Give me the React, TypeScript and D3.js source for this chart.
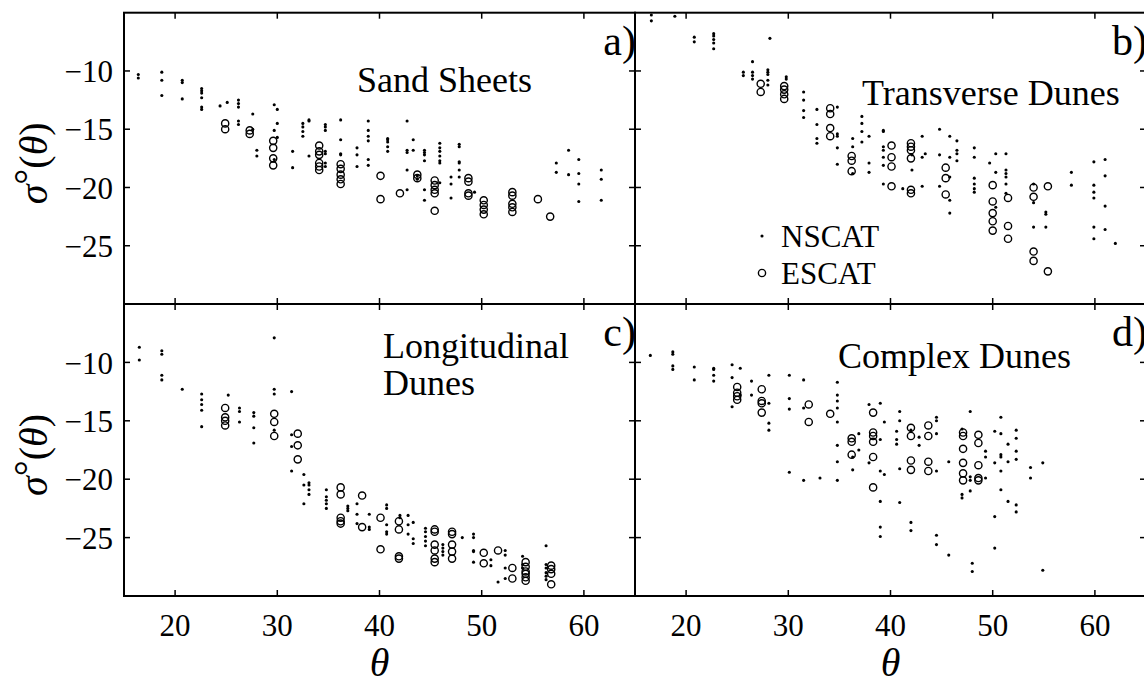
import React from "react";
import * as d3 from "d3";

// Backscatter σ°(θ) samples grouped by incidence angle: [θ, [σ° values, dB]]
type Column = [number, number[]];

const sandNscat: Column[] = [
  [16.4, [-10.3, -10.6]],
  [18.7, [-10.1, -10.8, -12.1]],
  [20.7, [-10.8, -11.0, -12.4]],
  [22.6, [-11.5, -11.7, -11.9, -12.3, -13.1, -13.3]],
  [24.4, [-13.0]],
  [25.1, [-12.7]],
  [26.2, [-12.5, -12.8, -13.1, -14.3, -14.6]],
  [27.6, [-13.7, -15.0]],
  [28.0, [-16.8, -17.3]],
  [29.7, [-12.9, -15.1, -17.6]],
  [30.0, [-13.3, -14.5, -15.7]],
  [31.5, [-16.9, -18.3]],
  [32.5, [-14.5, -14.8, -15.2, -15.6]],
  [33.1, [-14.2, -14.3, -17.3]],
  [34.7, [-14.6, -14.8, -15.1, -16.9, -17.1, -17.9, -18.2]],
  [36.2, [-14.2, -15.9, -17.1, -17.2]],
  [37.8, [-16.6, -17.2, -18.2]],
  [38.9, [-14.3, -15.1, -15.6, -16.0, -17.6, -18.1]],
  [40.8, [-15.8, -15.9, -16.1, -16.5, -16.9]],
  [42.7, [-14.3, -16.8, -17.0, -18.5, -20.2]],
  [43.3, [-15.9, -16.8]],
  [43.7, [-19.0, -19.3]],
  [44.4, [-16.8, -17.0, -17.2, -17.7, -20.2, -21.1]],
  [45.9, [-16.2, -16.6, -16.9, -17.3, -17.7, -17.9, -19.6]],
  [47.0, [-19.1, -19.7, -20.9]],
  [47.8, [-16.3, -16.5, -17.8, -17.9, -18.5, -19.1]],
  [49.3, [-20.4]],
  [57.3, [-17.9, -18.7]],
  [58.5, [-16.8, -18.9]],
  [59.5, [-17.6, -18.8, -19.7, -21.2]],
  [61.7, [-18.5, -19.3, -21.1]],
];

const sandEscat: Column[] = [
  [24.9, [-14.5, -15.0]],
  [27.3, [-15.1, -15.4]],
  [29.6, [-16.0, -16.6, -17.5, -18.1]],
  [34.1, [-16.4, -16.9, -17.2, -17.9, -18.2, -18.5]],
  [36.2, [-18.0, -18.4, -18.9, -19.3, -19.7]],
  [40.1, [-19.0, -21.0]],
  [42.0, [-20.5]],
  [43.7, [-18.9, -19.2]],
  [45.4, [-19.4, -19.8, -20.2, -20.5, -22.0]],
  [48.7, [-19.2, -19.5, -20.5, -20.7]],
  [50.2, [-21.1, -21.5, -21.9, -22.3]],
  [53.0, [-20.4, -20.7, -21.4, -21.7, -22.1]],
  [55.5, [-21.0]],
  [56.7, [-22.5]],
];

const transNscat: Column[] = [
  [16.6, [-5.2, -5.7]],
  [18.9, [-5.3]],
  [20.8, [-7.1, -7.5]],
  [22.7, [-6.8, -7.0, -7.3, -7.6, -8.1]],
  [25.6, [-10.1, -10.4]],
  [26.5, [-9.2, -10.1, -10.4, -10.7]],
  [28.0, [-9.9, -10.1, -10.3, -10.8, -11.2]],
  [28.2, [-7.2]],
  [29.8, [-10.5, -10.7]],
  [31.5, [-11.8, -12.5, -13.4, -14.0]],
  [32.8, [-13.3, -14.6, -15.8, -16.2]],
  [34.8, [-13.1, -15.4, -15.6, -16.6, -18.0]],
  [36.3, [-15.8, -16.5, -18.8]],
  [37.2, [-13.9, -14.5, -15.2, -16.1]],
  [37.9, [-15.6, -17.9, -18.7]],
  [39.3, [-15.1, -15.2, -16.5, -16.8, -17.4, -18.1, -19.7]],
  [41.2, [-20.1]],
  [42.1, [-17.2, -18.5]],
  [43.1, [-15.6, -17.4, -19.9]],
  [43.4, [-17.1]],
  [44.8, [-15.0, -17.2, -19.9]],
  [45.8, [-15.6, -17.4, -19.1, -21.1, -22.2]],
  [46.5, [-16.0, -16.8, -17.1, -17.7]],
  [48.2, [-16.6, -17.4, -19.2, -19.7, -20.1, -20.4]],
  [49.7, [-17.9]],
  [50.3, [-17.1, -18.7, -21.7]],
  [51.3, [-17.1, -18.5, -18.8, -19.1, -19.7, -20.5]],
  [54.0, [-19.7, -21.3, -23.4]],
  [55.2, [-22.1, -22.3, -23.4]],
  [57.7, [-18.7, -19.8]],
  [59.9, [-17.8, -19.8, -20.4, -20.9, -23.4, -24.4]],
  [61.0, [-17.6, -19.0, -21.6, -23.6]],
  [62.0, [-24.8]],
];

const transEscat: Column[] = [
  [27.3, [-11.1, -11.8]],
  [29.6, [-11.3, -11.6, -12.0, -12.4]],
  [34.1, [-13.2, -13.7, -14.9, -15.6]],
  [36.2, [-17.3, -17.7, -18.6]],
  [40.1, [-16.4, -17.4, -18.2, -19.9]],
  [42.0, [-16.2, -16.5, -16.8, -17.5, -20.2, -20.5]],
  [45.4, [-18.3, -19.2, -20.6]],
  [50.0, [-19.8, -21.2, -22.2, -22.9, -23.7]],
  [51.5, [-20.9, -23.3, -24.4]],
  [54.0, [-20.0, -20.8, -25.5, -26.3]],
  [55.4, [-19.9, -27.2]],
];

const longNscat: Column[] = [
  [16.5, [-8.7, -9.8]],
  [18.7, [-9.0, -9.3, -11.1, -11.5]],
  [20.7, [-12.3]],
  [22.6, [-12.7, -13.2, -13.6, -14.1, -15.5]],
  [25.2, [-12.8]],
  [26.3, [-13.9, -14.2, -15.1]],
  [27.7, [-14.3, -14.6, -15.6, -16.9]],
  [29.7, [-7.9, -12.3, -12.7, -15.8]],
  [31.4, [-12.5, -16.2, -17.2, -19.3]],
  [32.6, [-19.6, -20.5, -22.1]],
  [33.1, [-20.3, -20.5, -20.9, -21.3]],
  [34.8, [-20.9, -21.5, -21.8, -22.1, -22.5]],
  [36.9, [-22.3, -22.5, -22.7]],
  [37.8, [-22.1, -23.0, -23.8]],
  [39.0, [-23.0, -24.1, -24.3]],
  [40.7, [-22.2, -22.5, -23.9, -24.5, -24.7]],
  [42.0, [-23.1, -23.3]],
  [42.8, [-23.1, -23.9, -24.7]],
  [43.3, [-23.7, -25.1, -25.5]],
  [44.5, [-24.2, -24.5, -24.9, -25.3, -25.7]],
  [46.2, [-25.6, -25.9, -26.2, -26.5]],
  [48.1, [-25.0]],
  [49.2, [-24.7, -25.0, -26.1, -26.2, -27.1]],
  [50.9, [-26.9, -27.4]],
  [51.6, [-28.8]],
  [52.3, [-26.1, -26.5, -27.6, -28.5]],
  [54.0, [-26.6, -27.3, -27.6]],
  [56.3, [-25.7, -27.3, -27.6, -28.0, -28.3, -28.6]],
];

const longEscat: Column[] = [
  [24.9, [-13.9, -14.7, -15.0, -15.4]],
  [29.7, [-14.4, -15.1, -16.3]],
  [32.0, [-16.1, -17.1, -18.3]],
  [36.2, [-20.7, -21.3, -23.3, -23.6, -23.8]],
  [38.3, [-21.4, -24.1]],
  [40.1, [-23.3, -26.0]],
  [41.9, [-23.6, -24.3, -26.6, -26.8]],
  [45.4, [-24.3, -24.5, -25.6, -26.1, -26.8, -27.1]],
  [47.1, [-24.5, -24.7, -25.6, -26.2, -26.8]],
  [50.2, [-26.3, -27.2]],
  [51.6, [-26.1]],
  [53.0, [-27.6, -28.5]],
  [54.3, [-27.1, -27.5, -27.9, -28.1, -28.4, -28.7]],
  [56.8, [-27.4, -27.7, -28.1, -29.0]],
];

const complexNscat: Column[] = [
  [16.5, [-9.4]],
  [18.7, [-9.1, -9.3, -10.3, -10.6]],
  [20.8, [-10.4, -11.5]],
  [22.7, [-10.5, -10.6, -11.1, -11.6]],
  [24.5, [-10.2, -11.3, -13.8]],
  [25.3, [-10.5, -12.8]],
  [26.4, [-11.6, -12.8]],
  [28.1, [-11.1, -13.5, -15.2, -15.8]],
  [30.1, [-11.1, -13.1, -14.0, -19.4]],
  [31.5, [-11.5, -13.9, -20.1]],
  [33.1, [-19.9]],
  [34.8, [-11.7, -12.8, -13.3, -13.9, -15.1, -17.1, -18.5, -20.1]],
  [36.3, [-18.1, -19.2]],
  [36.9, [-16.1, -17.5]],
  [37.9, [-13.6, -18.6]],
  [39.0, [-13.5, -16.6, -19.3, -21.9, -24.1, -24.9]],
  [39.4, [-15.1, -19.6]],
  [40.6, [-15.9, -16.6, -17.0]],
  [40.9, [-14.2, -15.0, -19.1, -22.0]],
  [42.0, [-15.8, -23.7, -24.4]],
  [42.8, [-16.4, -17.1]],
  [44.5, [-14.7, -15.0, -16.1, -19.3, -24.8, -25.6]],
  [45.7, [-18.5, -26.5]],
  [47.0, [-15.7, -21.3, -21.6]],
  [47.8, [-14.2, -19.8, -20.1, -21.0]],
  [48.0, [-27.2, -27.9]],
  [49.3, [-17.6, -18.1, -19.9]],
  [50.2, [-15.9, -18.6, -23.2, -25.9]],
  [50.8, [-14.7, -16.1, -17.9, -18.1, -19.3, -20.9]],
  [51.5, [-17.0, -18.5, -21.9]],
  [52.3, [-15.8, -16.5, -17.6, -18.3, -22.2, -22.8]],
  [53.7, [-19.0, -19.9]],
  [54.9, [-18.6, -27.8]],
];

const complexEscat: Column[] = [
  [25.0, [-12.1, -12.6, -12.9, -13.2]],
  [27.4, [-12.3, -13.3, -13.5, -14.3]],
  [32.0, [-13.6, -15.1]],
  [34.1, [-14.4]],
  [36.2, [-16.5, -16.8, -17.9]],
  [38.3, [-14.3, -16.0, -16.3, -16.8, -18.1, -20.7]],
  [42.0, [-15.6, -16.3, -18.4, -19.2]],
  [43.7, [-15.4, -16.3, -18.5, -19.3]],
  [47.1, [-16.0, -16.3, -17.4, -18.6, -19.5, -20.1]],
  [48.6, [-16.2, -16.9, -18.8, -19.9, -20.1]],
];

const xTicks = [20, 30, 40, 50, 60];
const yTicks = [-25, -20, -15, -10];
const xDomain: [number, number] = [15, 65];
const yDomain: [number, number] = [-30, -5];

const panels = [
  { id: "a", col: 0, row: 0, label: "a)", title: ["Sand Sheets"], nscat: sandNscat, escat: sandEscat },
  { id: "b", col: 1, row: 0, label: "b)", title: ["Transverse Dunes"], nscat: transNscat, escat: transEscat },
  { id: "c", col: 0, row: 1, label: "c)", title: ["Longitudinal", "Dunes"], nscat: longNscat, escat: longEscat },
  { id: "d", col: 1, row: 1, label: "d)", title: ["Complex Dunes"], nscat: complexNscat, escat: complexEscat },
];

// layout
const colEdges = [124, 635, 1146];
const rowEdges = [12.7, 304, 596];
const titlePos: Record<string, [number, number]> = {
  a: [357, 92],
  b: [862, 105],
  c: [383, 358],
  d: [838, 368],
};

const FONT = "'Liberation Serif', 'Times New Roman', serif";
const TICK = 6;
const DOT_R = 1.55;
const RING_R = 3.6;
const RING_W = 1.4;

const flatten = (cols: Column[]) =>
  cols.flatMap(([t, vals]) => vals.map((v) => [t, v] as [number, number]));

export default function App() {
  return (
    <svg
      width={1144}
      height={677}
      style={{ position: "absolute", left: 0, top: 0, background: "#fff" }}
      fontFamily={FONT}
    >
      <rect width={1144} height={677} fill="#fff" />
      {panels.map((p) => {
        const x0 = colEdges[p.col];
        const x1 = colEdges[p.col + 1];
        const y0 = rowEdges[p.row];
        const y1 = rowEdges[p.row + 1];
        const x = d3.scaleLinear().domain(xDomain).range([x0, x1]);
        const y = d3.scaleLinear().domain(yDomain).range([y1, y0]);
        const dots = flatten(p.nscat);
        const rings = flatten(p.escat);
        const [tx, ty] = titlePos[p.id];
        return (
          <g key={p.id}>
            {dots.map(([t, s], i) => (
              <circle key={"n" + i} cx={x(t)} cy={y(s)} r={DOT_R} fill="#000" />
            ))}
            {rings.map(([t, s], i) => (
              <circle
                key={"e" + i}
                cx={x(t)}
                cy={y(s)}
                r={RING_R}
                fill="none"
                stroke="#000"
                strokeWidth={RING_W}
              />
            ))}
            {/* inward ticks on all four sides */}
            {xTicks.map((t) => (
              <g key={"xt" + t} stroke="#000" strokeWidth={1.5}>
                <line x1={x(t)} x2={x(t)} y1={y1} y2={y1 - TICK} />
                <line x1={x(t)} x2={x(t)} y1={y0} y2={y0 + TICK} />
              </g>
            ))}
            {yTicks.map((t) => (
              <g key={"yt" + t} stroke="#000" strokeWidth={1.5}>
                <line x1={x0} x2={x0 + TICK} y1={y(t)} y2={y(t)} />
                <line x1={x1} x2={x1 - TICK} y1={y(t)} y2={y(t)} />
              </g>
            ))}
            <rect
              x={x0}
              y={y0}
              width={x1 - x0}
              height={y1 - y0}
              fill="none"
              stroke="#000"
              strokeWidth={2}
            />
            {p.col === 0 &&
              yTicks.map((t) => (
                <text
                  key={"yl" + t}
                  x={x0 - 11}
                  y={y(t)}
                  dy="0.36em"
                  textAnchor="end"
                  fontSize={31}
                >
                  {"\u2212" + Math.abs(t)}
                </text>
              ))}
            {p.row === 1 &&
              xTicks.map((t) => (
                <text key={"xl" + t} x={x(t)} y={636} textAnchor="middle" fontSize={31}>
                  {t}
                </text>
              ))}
            {p.title.map((line, i) => (
              <text key={"t" + i} x={tx} y={ty + i * 37} fontSize={36}>
                {line}
              </text>
            ))}
            <text x={x1 + 1} y={y0 + 42} textAnchor="end" fontSize={42}>
              {p.label}
            </text>
            {p.col === 0 && (
              <text
                transform={`translate(47,${(y0 + y1) / 2 + 5}) rotate(-90)`}
                textAnchor="middle"
                fontSize={40}
              >
                <tspan fontStyle="italic">σ</tspan>
                <tspan dy={-5}>°</tspan>
                <tspan dy={5}>(</tspan>
                <tspan fontStyle="italic">θ</tspan>
                <tspan>)</tspan>
              </text>
            )}
            {p.row === 1 && (
              <text
                x={x(40)}
                y={676}
                textAnchor="middle"
                fontSize={40}
                fontStyle="italic"
              >
                θ
              </text>
            )}
            {p.id === "b" && (
              <g>
                <circle cx={762} cy={236} r={DOT_R} fill="#000" />
                <circle cx={762} cy={273} r={RING_R} fill="none" stroke="#000" strokeWidth={RING_W} />
                <text x={781} y={247} fontSize={31}>NSCAT</text>
                <text x={781} y={284} fontSize={31}>ESCAT</text>
              </g>
            )}
          </g>
        );
      })}
    </svg>
  );
}
